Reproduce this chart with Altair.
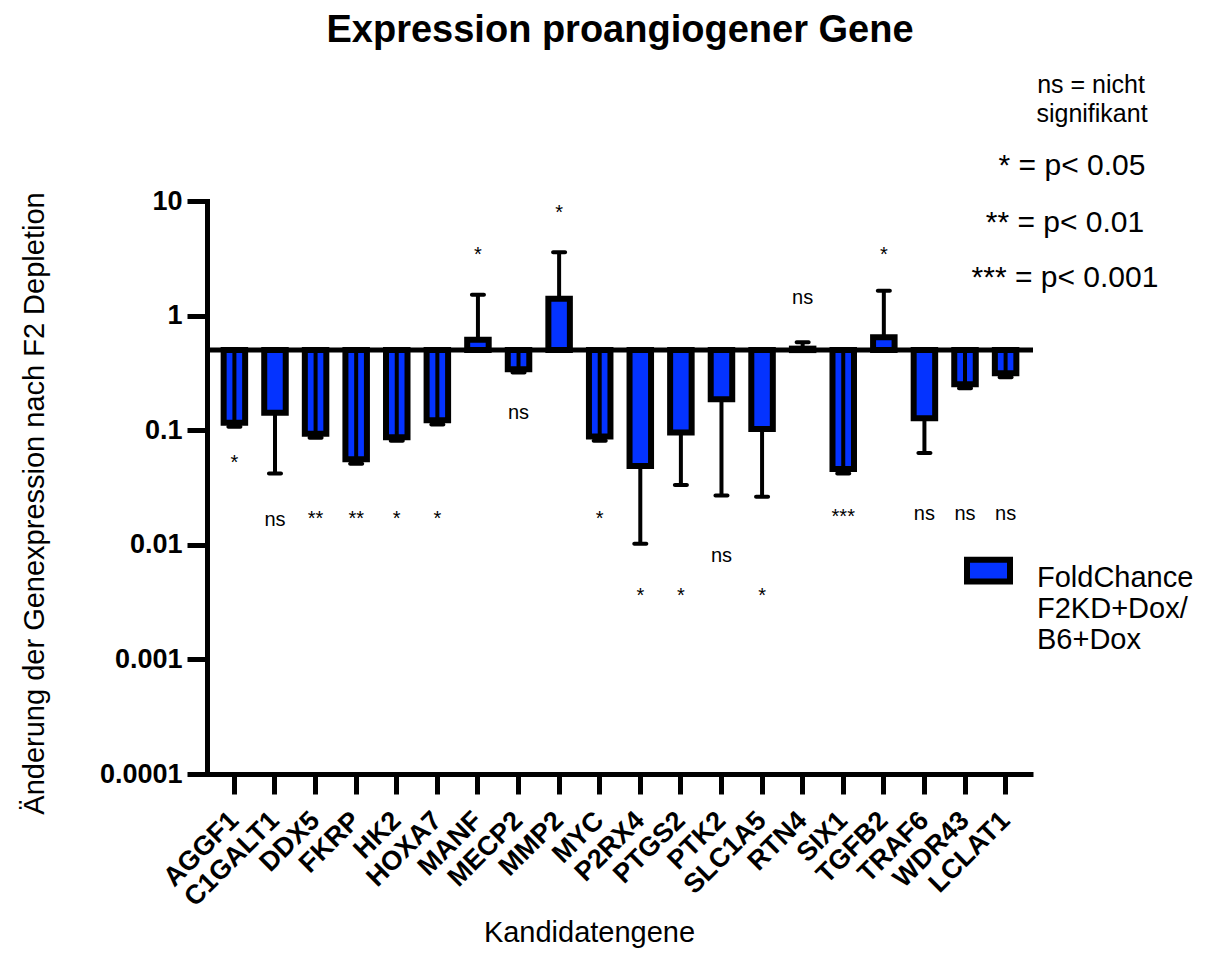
import altair as alt
import pandas as pd

genes = ["AGGF1", "C1GALT1", "DDX5", "FKRP", "HK2", "HOXA7", "MANF", "MECP2", "MMP2", "MYC",
         "P2RX4", "PTGS2", "PTK2", "SLC1A5", "RTN4", "SIX1", "TGFB2", "TRAF6", "WDR43", "LCLAT1"]
fold = [0.116, 0.142, 0.093, 0.0557, 0.0867, 0.122, 0.617, 0.34, 1.40, 0.088,
        0.0488, 0.0953, 0.186, 0.1026, 0.515, 0.0459, 0.647, 0.127, 0.252, 0.314]
err_inner = [0.5, 0.142, 0.5, 0.5, 0.5, 0.5, 0.617, 0.5, 1.40, 0.5,
             0.0488, 0.0953, 0.186, 0.1026, 0.515, 0.5, 0.647, 0.127, 0.5, 0.5]
err_outer = [0.107, 0.042, 0.086, 0.051, 0.081, 0.112, 1.52, 0.318, 3.57, 0.081,
             0.0102, 0.0333, 0.0269, 0.0263, 0.585, 0.042, 1.65, 0.0633, 0.232, 0.29]
sig = ["*", "ns", "**", "**", "*", "*", "*", "ns", "*", "*",
       "*", "*", "ns", "*", "ns", "***", "*", "ns", "ns", "ns"]
sig_pos = [0.0554, 0.0163, 0.018, 0.018, 0.018, 0.018, 3.62, 0.1425, 8.41, 0.018,
           0.00383, 0.00383, 0.00805, 0.00383, 1.41, 0.0184, 3.62, 0.0187, 0.0187, 0.0187]
BASELINE = 0.5
series_name = "FoldChance F2KD+Dox/ B6+Dox"
y_ticks = [0.0001, 0.001, 0.01, 0.1, 1, 10]
note_lines = ["ns = nicht", "signifikant"]
p_lines = ["* = p< 0.05", "** = p< 0.01", "*** = p< 0.001"]

FONT = "Liberation Sans"
BLUE = "#0433ff"

df = pd.DataFrame({
    "gene": genes, "fold": fold, "err_inner": err_inner, "err_outer": err_outer,
    "sig": sig, "sig_pos": sig_pos,
})
df["base"] = BASELINE
df["series"] = series_name
df["is_ns"] = df["sig"] == "ns"

xscale = alt.Scale(paddingInner=0.47, paddingOuter=0.41)
yscale = alt.Scale(type="log", domain=[y_ticks[0], y_ticks[-1]])

x_axis = alt.Axis(
    labelAngle=-45, labelAlign="right", labelBaseline="middle",
    labelFont=FONT, labelFontSize=27, labelFontWeight="bold", labelColor="black",
    labelPadding=22, tickSize=20, tickWidth=5, tickColor="black",
    domainWidth=5, domainColor="black", labelOverlap=False,
    title="Kandidatengene", titleFont=FONT, titleFontSize=29, titleFontWeight="normal",
    titleColor="black", titleBaseline="alphabetic", titleAlign="center",
    titleX=382, titleY=167,
)
y_axis = alt.Axis(
    values=y_ticks, format="~g", grid=False,
    labelFont=FONT, labelFontSize=27, labelFontWeight="bold", labelColor="black",
    labelPadding=5, tickSize=20, tickWidth=5, tickColor="black",
    domainWidth=5, domainColor="black", domainCap="square",
    title="Änderung der Genexpression nach F2 Depletion", titleFont=FONT, titleFontSize=29,
    titleFontWeight="normal", titleColor="black", titleBaseline="alphabetic",
    titleX=-164, titleY=302, titleAngle=-90,
)

base = alt.Chart(df)
X = alt.X("gene:N", sort=genes, scale=xscale, axis=x_axis)


def Y(field):
    return alt.Y(field, scale=yscale, axis=y_axis)


bars = base.mark_bar(stroke="black", strokeWidth=6).encode(
    x=X,
    y=Y("fold:Q"),
    y2="base:Q",
    fill=alt.Fill("series:N", scale=alt.Scale(range=[BLUE]), legend=alt.Legend(
        orient="none", legendX=757, legendY=338, title=None,
        symbolType="M-1,-0.18H1V0.84H-1Z", symbolSize=1849,
        symbolStrokeColor="black", symbolStrokeWidth=6, symbolOpacity=1,
        labelFont=FONT, labelFontSize=29, labelColor="black",
        labelExpr="['FoldChance', 'F2KD+Dox/', 'B6+Dox']", labelLimit=0,
        labelOffset=24, labelBaseline="top", padding=0,
    )),
)

base_line = alt.Chart(pd.DataFrame({"b": [BASELINE]})).mark_rule(
    color="black", strokeWidth=5).encode(y=Y("b:Q"))

whisk = base.mark_rule(color="black", strokeWidth=4).encode(
    x=X, y=Y("err_inner:Q"), y2="err_outer:Q")

caps = base.mark_tick(color="black", size=16, thickness=4, cornerRadius=2, opacity=1).encode(
    x=X, y=Y("err_outer:Q"))

ns_text = base.transform_filter("datum.is_ns").mark_text(
    font=FONT, fontSize=20, color="black", baseline="middle").encode(
    x=X, y=Y("sig_pos:Q"), text="sig:N")

star_text = base.transform_filter("!datum.is_ns").mark_text(
    font=FONT, fontSize=20, color="black", baseline="middle", dy=3).encode(
    x=X, y=Y("sig_pos:Q"), text="sig:N")

note_layers = []
for txt, xp, yp in zip(note_lines, [884, 885], [-108, -79]):
    note_layers.append(alt.Chart(pd.DataFrame({"t": [txt]})).mark_text(
        font=FONT, fontSize=25, color="black", align="center", baseline="alphabetic").encode(
        x=alt.value(xp), y=alt.value(yp), text="t:N"))
for txt, xp, yp in zip(p_lines, [865, 858, 858], [-26, 31, 86]):
    note_layers.append(alt.Chart(pd.DataFrame({"t": [txt]})).mark_text(
        font=FONT, fontSize=30, color="black", align="center", baseline="alphabetic").encode(
        x=alt.value(xp), y=alt.value(yp), text="t:N"))

chart = alt.layer(bars, base_line, whisk, caps, ns_text, star_text, *note_layers).properties(
    width=826, height=573,
    padding={"left": 199, "top": 193, "right": 174, "bottom": 175},
    autosize=alt.AutoSizeParams(type="none"),
    background="white",
    title=alt.TitleParams("Expression proangiogener Gene", font=FONT, fontSize=38,
                          fontWeight="bold", color="black", anchor="middle",
                          frame="group", offset=23),
).configure_view(stroke=None)

chart.save("out.html", embed_options={"renderer": "svg", "actions": False})
